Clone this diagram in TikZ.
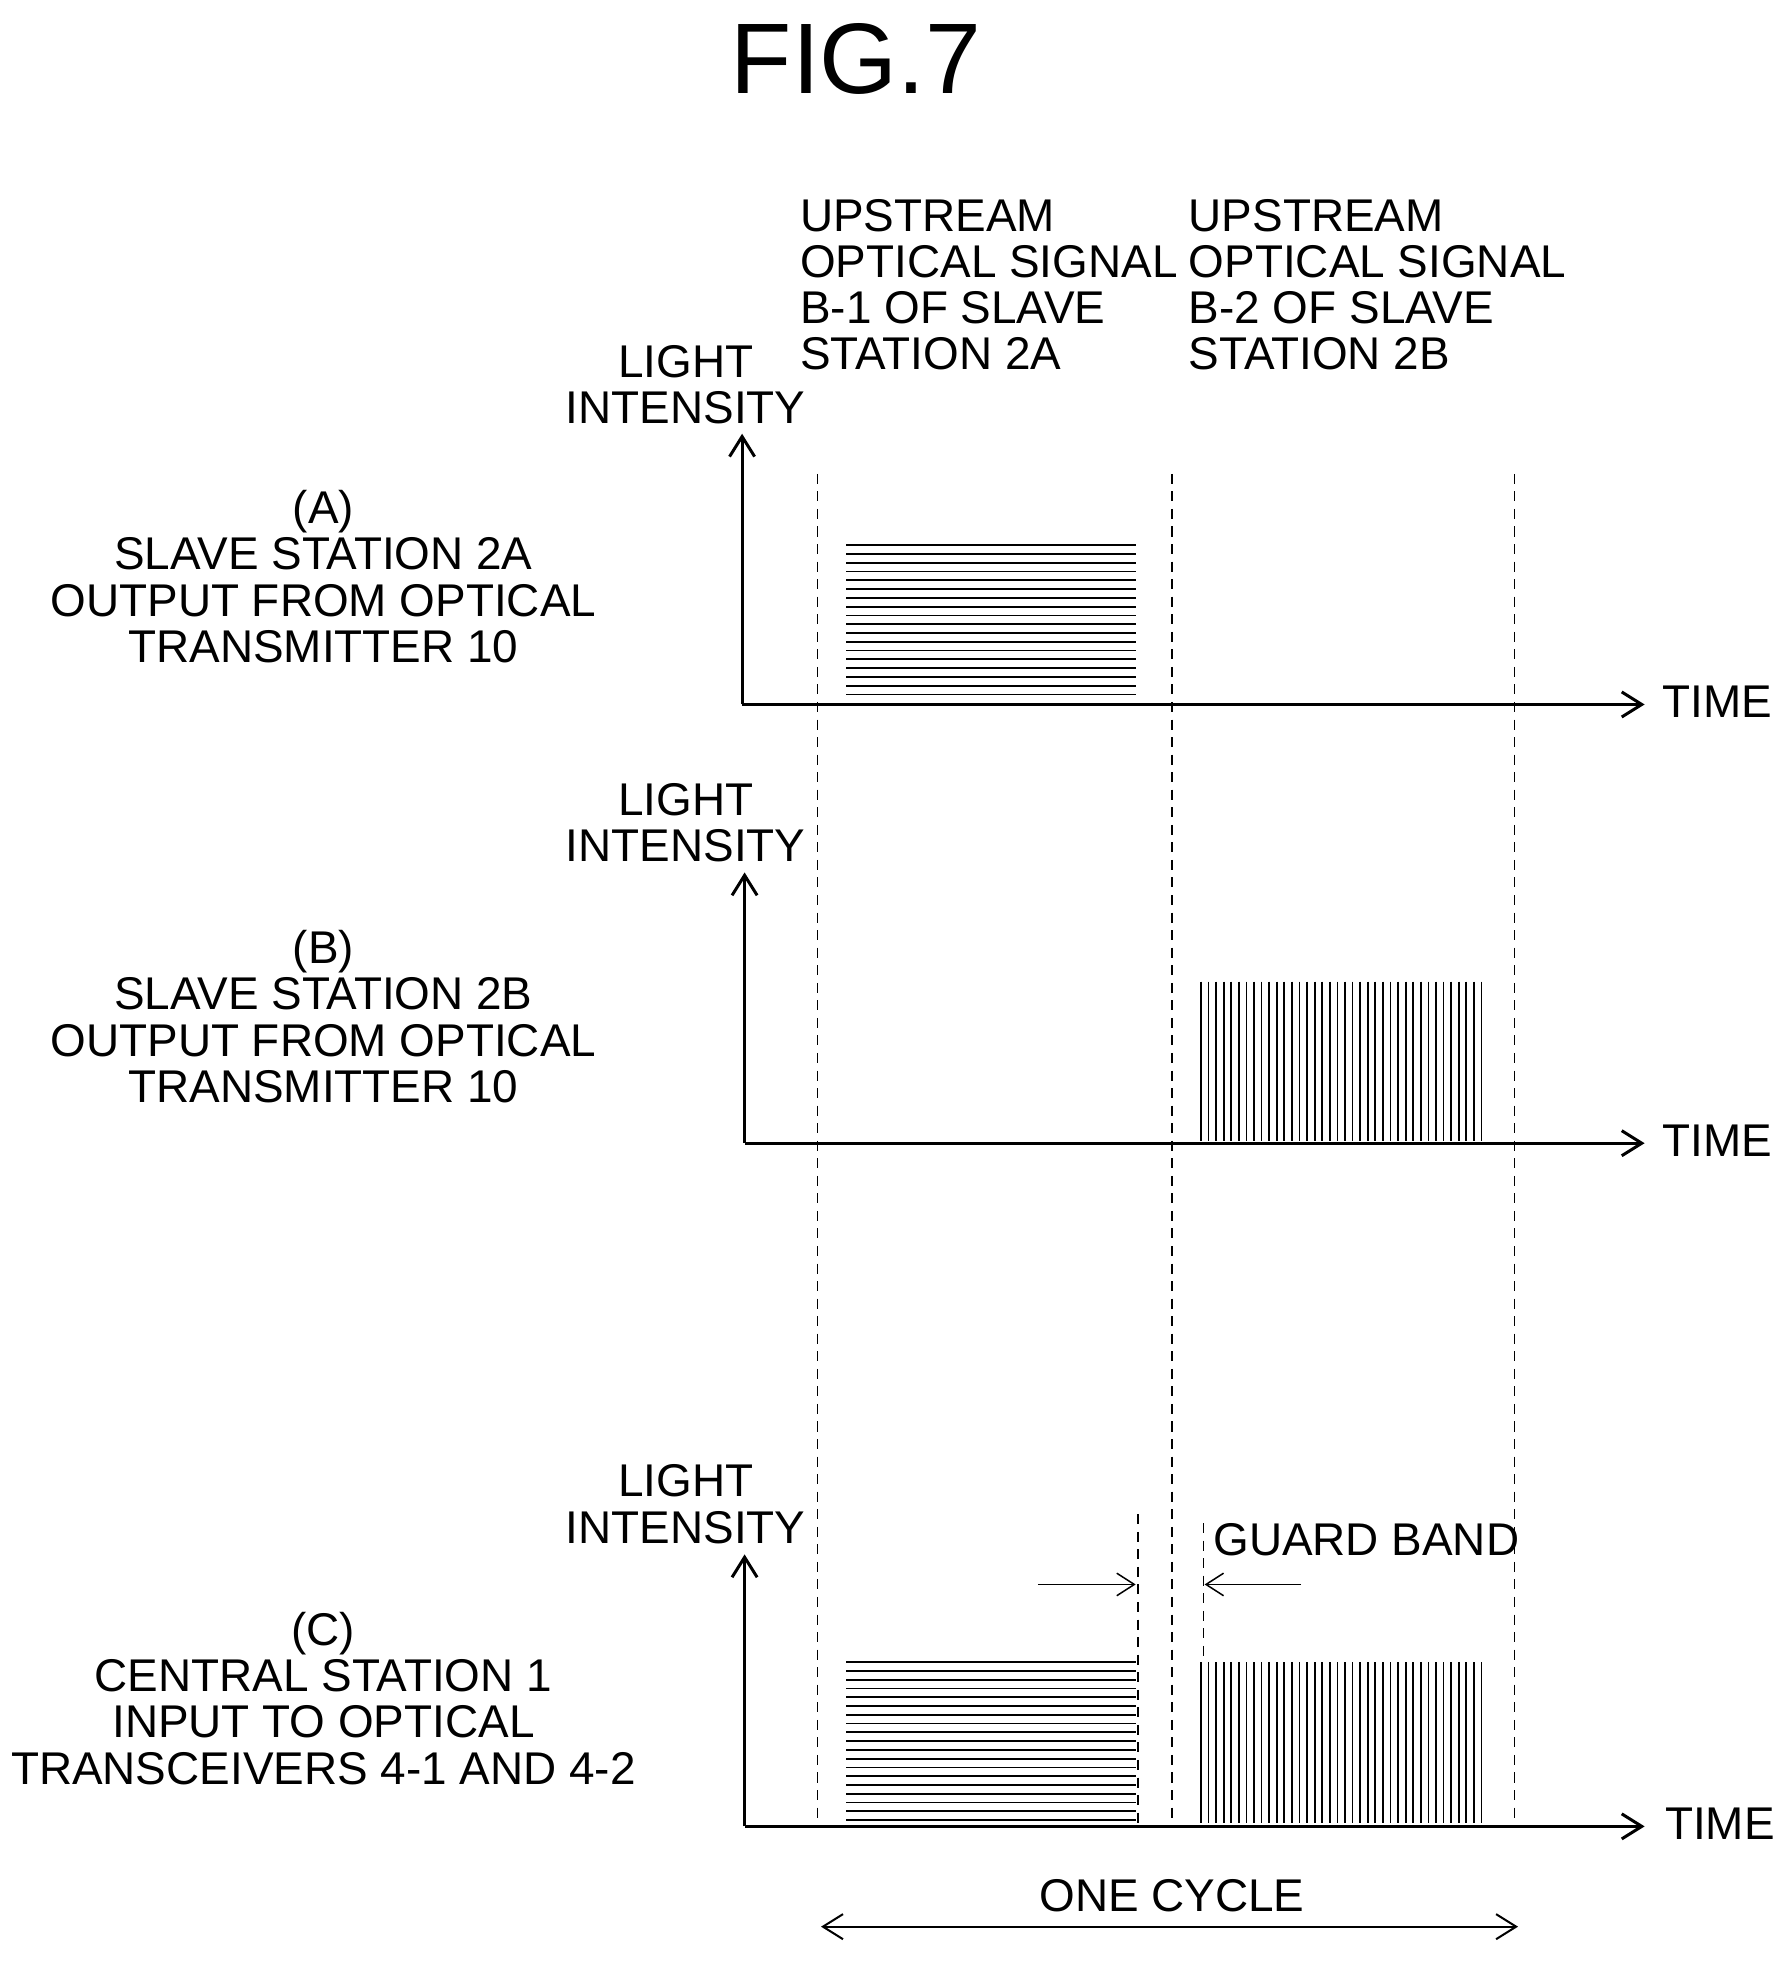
\documentclass[tikz,border=0pt]{standalone}
\usepackage{fontspec}
\setmainfont{Liberation Sans}
\usetikzlibrary{arrows.meta}
\begin{document}
\begin{tikzpicture}[x=0.5pt,y=-0.5pt,
  lbl/.style={font=\fontsize{18.3}{18.4}\selectfont, inner sep=0pt},
  axis/.style={line width=1.2pt,-{Straight Barb[length=8pt,width=10pt]}},
  dsh/.style={line width=0.6pt, dash pattern=on 4pt off 3pt},
  hatch/.style={line width=0.7pt},
  arr/.style={line width=0.6pt,-{Straight Barb[length=7pt,width=9pt]}}]
\useasboundingbox (0,0) rectangle (1428,1566);
\node[font=\fontsize{40}{42}\selectfont] (title) at (683,47) {FIG.7};
% dashed cycle lines
\foreach \x/\n in {652/d1,935/d2,1208/d3}{
  \coordinate (\n t) at (\x,378); \coordinate (\n b) at (\x,1455);
  \draw[dsh] (\n t) -- (\n b);}
% upstream labels
\node[lbl,anchor=west,align=left] (upA) at (638,227) {UPSTREAM\\OPTICAL SIGNAL\\B-1 OF SLAVE\\STATION 2A};
\node[lbl,anchor=west,align=left] (upB) at (948,227) {UPSTREAM\\OPTICAL SIGNAL\\B-2 OF SLAVE\\STATION 2B};
% Panel A
\coordinate (oA) at (592,562); \coordinate (yA) at (592,346); \coordinate (xA) at (1312,562);
\draw[axis] (oA) -- (yA); \draw[axis] (oA) -- (xA);
\node[lbl,anchor=west] (tA) at (1326,560) {TIME};
\node[lbl,align=center] (liA) at (547,307) {LIGHT\\INTENSITY};
\node[lbl,align=center] (lA) at (258,460) {(A)\\SLAVE STATION 2A\\OUTPUT FROM OPTICAL\\TRANSMITTER 10};
\foreach \i in {0,...,17} \draw[hatch] (675,435+7*\i) -- (906,435+7*\i);
% Panel B
\coordinate (oB) at (594,912); \coordinate (yB) at (594,696); \coordinate (xB) at (1312,912);
\draw[axis] (oB) -- (yB); \draw[axis] (oB) -- (xB);
\node[lbl,anchor=west] (tB) at (1326,910) {TIME};
\node[lbl,align=center] (liB) at (547,656) {LIGHT\\INTENSITY};
\node[lbl,align=center] (lB) at (258,811) {(B)\\SLAVE STATION 2B\\OUTPUT FROM OPTICAL\\TRANSMITTER 10};
\foreach \i in {0,...,37} \draw[hatch] (958+6.05*\i,783) -- (958+6.05*\i,910);
% Panel C
\coordinate (oC) at (594,1457); \coordinate (yC) at (594,1240); \coordinate (xC) at (1312,1457);
\draw[axis] (oC) -- (yC); \draw[axis] (oC) -- (xC);
\node[lbl,anchor=west] (tC) at (1328,1455) {TIME};
\node[lbl,align=center] (liC) at (547,1200) {LIGHT\\INTENSITY};
\node[lbl,align=center] (lC) at (258,1355) {(C)\\CENTRAL STATION 1\\INPUT TO OPTICAL\\TRANSCEIVERS 4-1 AND 4-2};
\foreach \i in {0,...,18} \draw[hatch] (675,1326+7*\i) -- (906,1326+7*\i);
\foreach \i in {0,...,37} \draw[hatch] (958+6.05*\i,1326) -- (958+6.05*\i,1454);
% guard band
\coordinate (g1t) at (908,1208); \coordinate (g1b) at (908,1455);
\coordinate (g2t) at (960,1215); \coordinate (g2b) at (960,1326);
\draw[dsh] (g1t) -- (g1b); \draw[dsh] (g2t) -- (g2b);
\coordinate (a1s) at (828,1264); \coordinate (a1e) at (906,1264);
\coordinate (a2s) at (1038,1264); \coordinate (a2e) at (961,1264);
\draw[arr] (a1s) -- (a1e); \draw[arr] (a2s) -- (a2e);
\node[lbl] (gb) at (1090,1228) {GUARD BAND};
% one cycle
\node[lbl] (oc) at (935,1512) {ONE CYCLE};
\coordinate (c1) at (655,1537); \coordinate (c2) at (1211,1537);
\draw[line width=0.8pt,{Straight Barb[length=8pt,width=10pt]}-{Straight Barb[length=8pt,width=10pt]}] (c1) -- (c2);
\end{tikzpicture}
\end{document}
